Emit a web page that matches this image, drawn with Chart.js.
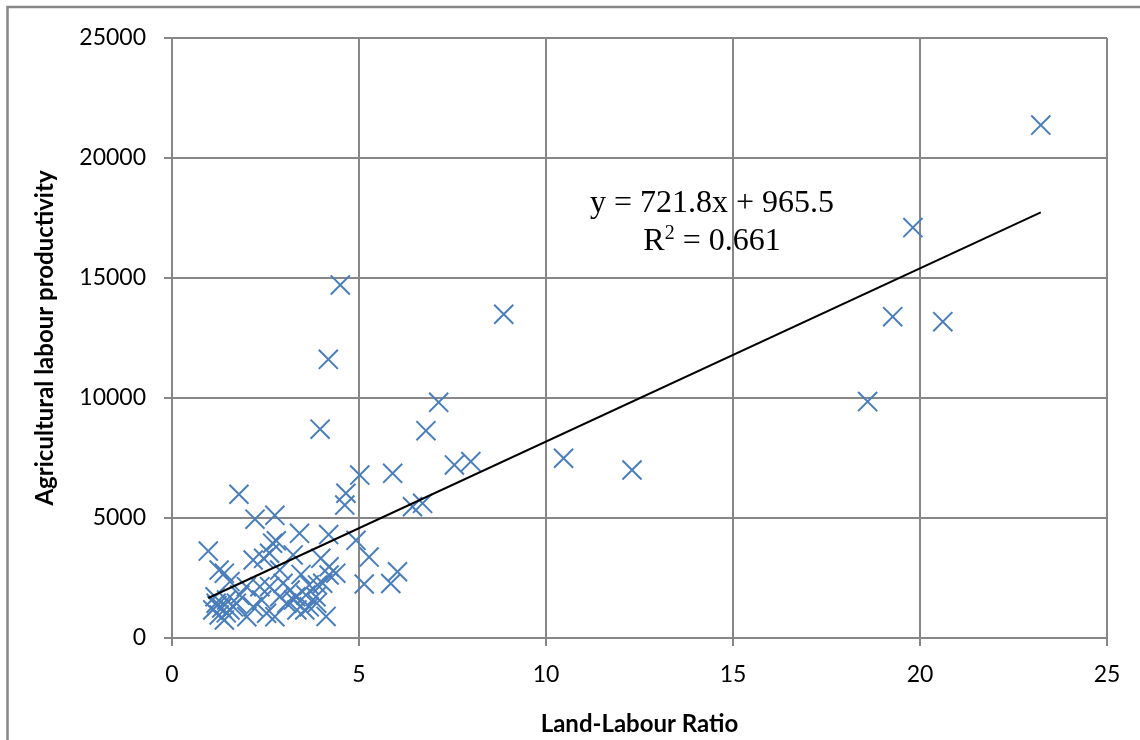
<!DOCTYPE html>
<html>
<head>
<meta charset="utf-8">
<style>
  html, body { margin: 0; padding: 0; background: #fff; }
  #wrap { position: relative; width: 1140px; height: 740px; }
</style>
<script src="https://cdn.jsdelivr.net/npm/chart.js@4/dist/chart.umd.min.js"></script>
</head>
<body>
<div id="wrap"><canvas id="c" width="1140" height="740"></canvas></div>
<script>
// Land-labour ratio (x) against agricultural labour productivity (y)
const landLabourRatio = [
  23.23, 19.81, 19.27, 20.61, 18.60, 12.30, 10.47, 8.87, 4.50, 4.18,
  3.96, 7.13, 6.79, 7.55, 7.99, 5.02, 5.90, 4.65, 4.62, 6.43,
  6.70, 1.79, 2.22, 2.75, 0.97, 2.69, 2.79, 3.41, 4.19, 4.92,
  5.27, 5.14, 5.85, 6.03, 4.12, 3.98, 4.20, 4.20, 3.89, 3.67,
  3.58, 3.31, 3.67, 3.85, 4.03, 3.45, 3.55, 1.26, 1.40, 2.17,
  1.55, 1.81, 1.99, 1.15, 1.18, 1.09, 1.26, 1.40, 1.55, 1.72,
  2.00, 2.17, 2.40, 2.61, 2.53, 2.88, 2.97, 2.88, 3.07, 3.25,
  3.16, 3.34, 2.75, 2.45, 2.61, 1.33, 1.45, 1.20, 3.24, 4.38,
  3.87, 1.64, 1.46, 2.35
];
const labourProductivity = [
  21370, 17100, 13390, 13180, 9850, 7000, 7490, 13490, 14710, 11610,
  8700, 9820, 8640, 7210, 7350, 6790, 6860, 6030, 5540, 5470,
  5610, 5990, 4950, 5110, 3620, 3950, 4050, 4360, 4310, 4070,
  3370, 2250, 2270, 2760, 900, 3320, 2970, 2625, 2210, 2210,
  1790, 1720, 1300, 1720, 2280, 2650, 1170, 2830, 2700, 3250,
  2350, 1790, 2140, 1720, 1450, 1170, 960, 750, 1170, 1450,
  890, 1300, 1580, 2140, 1030, 2830, 2280, 1720, 1450, 1580,
  2000, 1170, 890, 3320, 3530, 1250, 1050, 1350, 3460, 2700,
  1450, 1300, 1580, 2140
];

// Linear trendline as reported on the chart
const trendSlope = 721.8;
const trendIntercept = 965.5;
const trendLabel = 'y = 721.8x + 965.5';
const rSquaredText = '0.661';

const xTicks = [0, 5, 10, 15, 20, 25];
const yTicks = [0, 5000, 10000, 15000, 20000, 25000];

const points = landLabourRatio.map((x, i) => ({ x: x, y: labourProductivity[i] }));
const xMin = Math.min(...landLabourRatio);
const xMax = Math.max(...landLabourRatio);
const trendPoints = [
  { x: xMin, y: trendSlope * xMin + trendIntercept },
  { x: xMax, y: trendSlope * xMax + trendIntercept }
];

const GRID = '#878787';

// Page frame and white background
const framePlugin = {
  id: 'frame',
  beforeDraw(chart) {
    const ctx = chart.ctx;
    ctx.save();
    ctx.fillStyle = '#fff';
    ctx.fillRect(0, 0, chart.width, chart.height);
    ctx.strokeStyle = GRID;
    ctx.lineWidth = 2.5;
    ctx.beginPath();
    ctx.moveTo(7.5, chart.height);
    ctx.lineTo(7.5, 7);
    ctx.lineTo(chart.width, 7);
    ctx.stroke();
    ctx.restore();
  }
};

// Trendline equation and R-squared text
const equationPlugin = {
  id: 'equation',
  afterDatasetsDraw(chart) {
    const ctx = chart.ctx;
    const xs = chart.scales.x, ys = chart.scales.y;
    const cx = xs.getPixelForValue(14.44);
    const y1 = ys.getPixelForValue(17730);
    const y2 = ys.getPixelForValue(16150);
    const big = '32px "Liberation Serif"';
    const small = '20px "Liberation Serif"';
    ctx.save();
    ctx.fillStyle = '#000';
    ctx.textBaseline = 'alphabetic';
    ctx.font = big;
    ctx.textAlign = 'center';
    ctx.fillText(trendLabel, cx, y1);
    // R² line with raised superscript
    const wR = ctx.measureText('R').width;
    const wRest = ctx.measureText(' = ' + rSquaredText).width;
    ctx.font = small;
    const w2 = ctx.measureText('2').width;
    const total = wR + w2 + wRest;
    let x = cx - total / 2;
    ctx.textAlign = 'left';
    ctx.font = big;
    ctx.fillText('R', x, y2);
    x += wR;
    ctx.font = small;
    ctx.fillText('2', x, y2 - 11);
    x += w2;
    ctx.font = big;
    ctx.fillText(' = ' + rSquaredText, x, y2);
    ctx.restore();
  }
};

const plainNumber = (v) => String(v);

new Chart(document.getElementById('c'), {
  type: 'scatter',
  data: {
    datasets: [
      {
        label: 'Agricultural labour productivity',
        data: points,
        pointStyle: 'crossRot',
        pointRadius: 13.5,
        pointHoverRadius: 13.5,
        pointBorderWidth: 2,
        pointHoverBorderWidth: 2,
        borderColor: '#4a7ebb',
        backgroundColor: '#4a7ebb',
        order: 2
      },
      {
        type: 'line',
        label: 'Linear trend',
        data: trendPoints,
        borderColor: '#000',
        borderWidth: 2,
        pointRadius: 0,
        fill: false,
        order: 1
      }
    ]
  },
  options: {
    responsive: false,
    animation: false,
    events: [],
    layout: { padding: { top: 38, right: 33, left: 0, bottom: 0 } },
    plugins: {
      legend: { display: false },
      tooltip: { enabled: false },
      title: { display: false }
    },
    scales: {
      x: {
        type: 'linear',
        min: 0,
        max: 25,
        afterBuildTicks(scale) { scale.ticks = xTicks.map(v => ({ value: v })); },
        afterFit(scale) { scale.height = 102; },
        grid: { color: GRID, lineWidth: 2, tickLength: 8, drawTicks: true },
        border: { color: GRID, width: 2 },
        ticks: {
          color: '#000',
          padding: 15,
          callback: plainNumber,
          font: { family: 'Lato', size: 23 }
        },
        title: {
          display: true,
          text: 'Land-Labour Ratio',
          color: '#000',
          font: { family: 'Lato', size: 24, weight: 'bold' },
          padding: { top: 2, bottom: 1 }
        }
      },
      y: {
        type: 'linear',
        min: 0,
        max: 25000,
        afterBuildTicks(scale) { scale.ticks = yTicks.map(v => ({ value: v })); },
        afterFit(scale) { scale.width = 172; },
        grid: { color: GRID, lineWidth: 2, tickLength: 8, drawTicks: true },
        border: { color: GRID, width: 2 },
        ticks: {
          color: '#000',
          padding: 18,
          callback: plainNumber,
          font: { family: 'Lato', size: 23 }
        },
        title: {
          display: true,
          text: 'Agricultural labour productivity',
          color: '#000',
          font: { family: 'Lato', size: 24, weight: 'bold' },
          padding: { top: 31, bottom: 0 }
        }
      }
    }
  },
  plugins: [framePlugin, equationPlugin]
});
</script>
</body>
</html>
